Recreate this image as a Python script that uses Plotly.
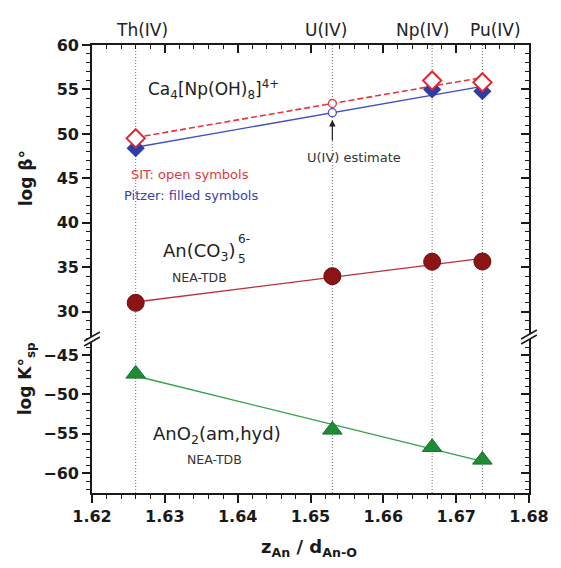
import numpy as np
import plotly.graph_objects as go

# ---- data ---------------------------------------------------------------
ions = ["Th(IV)", "U(IV)", "Np(IV)", "Pu(IV)"]
z_over_d = [1.626, 1.653, 1.6667, 1.6736]          # z(An) / d(An-O)

# Ca4[An(OH)8]4+ complexes (Th, Np, Pu)
ca_x = [1.626, 1.6667, 1.6736]
ca_sit = [49.5, 56.0, 55.8]
ca_pitzer = [48.4, 55.0, 54.8]

# An(CO3)5 6- complexes, NEA-TDB
carb_logb = [31.0, 34.0, 35.62, 35.65]

# AnO2(am,hyd) solubility products, NEA-TDB
oxide_logk = [-47.4, -54.5, -56.7, -58.3]

x_ticks = [1.62, 1.63, 1.64, 1.65, 1.66, 1.67, 1.68]
upper_ticks = [30, 35, 40, 45, 50, 55, 60]
lower_ticks = [-60, -55, -50, -45]

# ---- linear correlations --------------------------------------------------
x_line = [z_over_d[0], z_over_d[-1]]
u_x = z_over_d[1]


def fit(xs, ys):
    return np.polyfit(xs, ys, 1)


p_sit = fit(ca_x, ca_sit)
p_pit = fit(ca_x, ca_pitzer)
p_carb = fit(z_over_d, carb_logb)
p_oxide = fit(z_over_d, oxide_logk)

# ---- geometry helpers (plot area in pixels) -------------------------------
L, R, T, B = 92, 538, 45, 493
W_PX, H_PX = 561, 568


def pxx(px):
    return (px - L) / (R - L)


def pxy(py):
    return (B - py) / (B - T)


split = pxy(340)
FONT = "DejaVu Sans"
INK = "#1a1a1a"
UP_RANGE = [26.82, 60]
LO_RANGE = [-62.5, -43.11]

fig = go.Figure()

# Pitzer (filled) and SIT (open) correlations for Ca4[An(OH)8]4+
fig.add_trace(go.Scatter(x=x_line, y=np.polyval(p_pit, x_line), mode="lines",
                         line=dict(color="#3f4fc8", width=1.4),
                         xaxis="x", yaxis="y", showlegend=False))
fig.add_trace(go.Scatter(x=x_line, y=np.polyval(p_sit, x_line), mode="lines",
                         line=dict(color="#e8343c", width=1.6, dash="6px,3px"),
                         xaxis="x", yaxis="y", showlegend=False))
fig.add_trace(go.Scatter(x=ca_x, y=ca_pitzer, mode="markers",
                         marker=dict(symbol="diamond", size=14, color="#2d3ca8",
                                     line=dict(width=0)),
                         xaxis="x", yaxis="y", showlegend=False))
fig.add_trace(go.Scatter(x=ca_x, y=ca_sit, mode="markers",
                         marker=dict(symbol="diamond", size=14, color="white",
                                     line=dict(width=2, color="#e0282f")),
                         xaxis="x", yaxis="y", showlegend=False))
# U(IV) estimates
fig.add_trace(go.Scatter(x=[u_x], y=[np.polyval(p_pit, u_x)], mode="markers",
                         marker=dict(symbol="circle", size=8, color="white",
                                     line=dict(width=1.3, color="#3f4fc8")),
                         xaxis="x", yaxis="y", showlegend=False))
fig.add_trace(go.Scatter(x=[u_x], y=[np.polyval(p_sit, u_x)], mode="markers",
                         marker=dict(symbol="circle", size=8, color="white",
                                     line=dict(width=1.3, color="#e8343c")),
                         xaxis="x", yaxis="y", showlegend=False))

# An(CO3)5 6-
fig.add_trace(go.Scatter(x=x_line, y=np.polyval(p_carb, x_line), mode="lines",
                         line=dict(color="#b8323e", width=1.4),
                         xaxis="x", yaxis="y", showlegend=False))
fig.add_trace(go.Scatter(x=z_over_d, y=carb_logb, mode="markers",
                         marker=dict(symbol="circle", size=17, color="#8c1414",
                                     line=dict(width=1, color="#6e0c0c")),
                         xaxis="x", yaxis="y", showlegend=False))

# AnO2(am,hyd)
fig.add_trace(go.Scatter(x=x_line, y=np.polyval(p_oxide, x_line), mode="lines",
                         line=dict(color="#34a04a", width=1.4),
                         xaxis="x", yaxis="y2", showlegend=False))
fig.add_trace(go.Scatter(x=z_over_d, y=oxide_logk, mode="markers",
                         marker=dict(symbol="triangle-up", size=17, color="#1e8c34",
                                     line=dict(width=1, color="#18732a")),
                         xaxis="x", yaxis="y2", showlegend=False))

# transparent anchors so the mirrored frame axes (top / right) are drawn
for xa, ya, yv in [("x2", "y", 40), ("x", "y3", 40), ("x", "y4", -50)]:
    fig.add_trace(go.Scatter(x=[1.65], y=[yv], mode="markers",
                             marker=dict(size=1, opacity=0), hoverinfo="skip",
                             xaxis=xa, yaxis=ya, showlegend=False))

# ---- shapes: dotted guides and axis breaks --------------------------------
shapes = []
for xv in z_over_d:
    shapes.append(dict(type="line", xref="x", yref="paper", x0=xv, x1=xv,
                       y0=0, y1=1, layer="below",
                       line=dict(color="#707070", width=1, dash="1px,2px")))

for bx, by in [(L, 338), (R, 336)]:
    # white gap between the two slashes
    shapes.append(dict(type="path", xref="paper", yref="paper",
                       path=(f"M{pxx(bx-8)},{pxy(by+3)} L{pxx(bx+8)},{pxy(by-6)} "
                             f"L{pxx(bx+8)},{pxy(by-1)} L{pxx(bx-8)},{pxy(by+8)} Z"),
                       fillcolor="white", line=dict(width=0), layer="above"))
    for off in (0, 5):
        shapes.append(dict(type="line", xref="paper", yref="paper",
                           x0=pxx(bx - 8), y0=pxy(by + 3 + off),
                           x1=pxx(bx + 8), y1=pxy(by - 6 + off),
                           line=dict(color=INK, width=1.5), layer="above"))

# ---- annotations ----------------------------------------------------------
ann = []
for name, cx in zip(ions, [143.5, 331, 429, 504]):
    ann.append(dict(text=name, xref="paper", yref="paper", x=pxx(cx), y=pxy(30),
                    showarrow=False, xanchor="center", yanchor="middle",
                    font=dict(family=FONT, size=17, color="#222")))


def label(text, px, py, size, color="#222", xanchor="center", weight="normal", angle=0):
    ann.append(dict(text=text, xref="paper", yref="paper", x=pxx(px), y=pxy(py),
                    showarrow=False, xanchor=xanchor, yanchor="middle", textangle=angle,
                    font=dict(family=FONT, size=size, color=color, weight=weight)))


label("Ca<sub>4</sub>[Np(OH)<sub>8</sub>]<sup>4+</sup>", 147, 89, 17, xanchor="left")
label("SIT: open symbols", 192, 174, 13, color="#e03a42")
label("Pitzer: filled symbols", 193, 195, 13, color="#3a40b0")
label("An(CO<sub>3</sub>)", 162, 252, 18, xanchor="left")
label("6-", 239, 239, 12, xanchor="left")
label("5", 239, 259, 12, xanchor="left")
label("NEA-TDB", 202, 277, 12.5, color="#333")
label("AnO<sub>2</sub>(am,hyd)", 152, 435, 18, xanchor="left")
label("NEA-TDB", 217, 459, 12.5, color="#333")
label("U(IV) estimate", 359, 157, 13, color="#333")

label("log β°", 25, 178, 17, color=INK, weight="bold", angle=-90)
label("log K°<sub>sp</sub>", 25, 379, 17, color=INK, weight="bold", angle=-90)
label("z<sub>An</sub> / d<sub>An-O</sub>", 313, 548, 18, color=INK, weight="bold")

# arrow pointing at the U(IV) estimate
ann.append(dict(text="", x=u_x, y=60 - (120 - T) / 8.89, xref="x", yref="y",
                showarrow=True, ax=0, ay=22, arrowhead=2, arrowsize=1.1,
                arrowwidth=1.2, arrowcolor="#222", standoff=0))

# ---- axes -----------------------------------------------------------------
tick_font = dict(family=FONT, size=16, color=INK, weight="bold")
line_common = dict(showline=True, linecolor=INK, linewidth=1.6, showgrid=False,
                   zeroline=False, tickcolor=INK, tickwidth=1.5, ticklen=8)


def minor(side, dtick, tick0):
    return dict(dtick=dtick, tick0=tick0, ticks=side, ticklen=4,
                tickwidth=1.2, tickcolor=INK)


fig.update_layout(
    width=W_PX, height=H_PX,
    margin=dict(l=L, r=W_PX - R, t=T, b=H_PX - B),
    paper_bgcolor="white", plot_bgcolor="white",
    showlegend=False,
    shapes=shapes, annotations=ann,
    xaxis=dict(range=[1.62, 1.68], domain=[0, 1], anchor="y2",
               tickvals=x_ticks, ticktext=[f"{v:.2f}" for v in x_ticks],
               ticks="outside", tickfont=tick_font,
               minor=minor("outside", 0.002, 1.62), **line_common),
    xaxis2=dict(range=[1.62, 1.68], overlaying="x", side="top", anchor="y",
                tickvals=x_ticks, ticks="inside", showticklabels=False,
                minor=minor("inside", 0.002, 1.62), **line_common),
    yaxis=dict(range=UP_RANGE, domain=[split, 1], anchor="x",
               tickvals=upper_ticks, ticks="outside", tickfont=tick_font,
               minor=minor("outside", 1, 0), **line_common),
    yaxis2=dict(range=LO_RANGE, domain=[0, split], anchor="x",
                tickvals=lower_ticks, ticks="outside", tickfont=tick_font,
                minor=minor("outside", 1, 0), **line_common),
    yaxis3=dict(range=UP_RANGE, overlaying="y", side="right", anchor="x",
                tickvals=upper_ticks, ticks="inside", showticklabels=False,
                minor=minor("inside", 1, 0), **line_common),
    yaxis4=dict(range=LO_RANGE, overlaying="y2", side="right", anchor="x",
                tickvals=lower_ticks, ticks="inside", showticklabels=False,
                minor=minor("inside", 1, 0), **line_common),
)

fig.write_html("out.html")
